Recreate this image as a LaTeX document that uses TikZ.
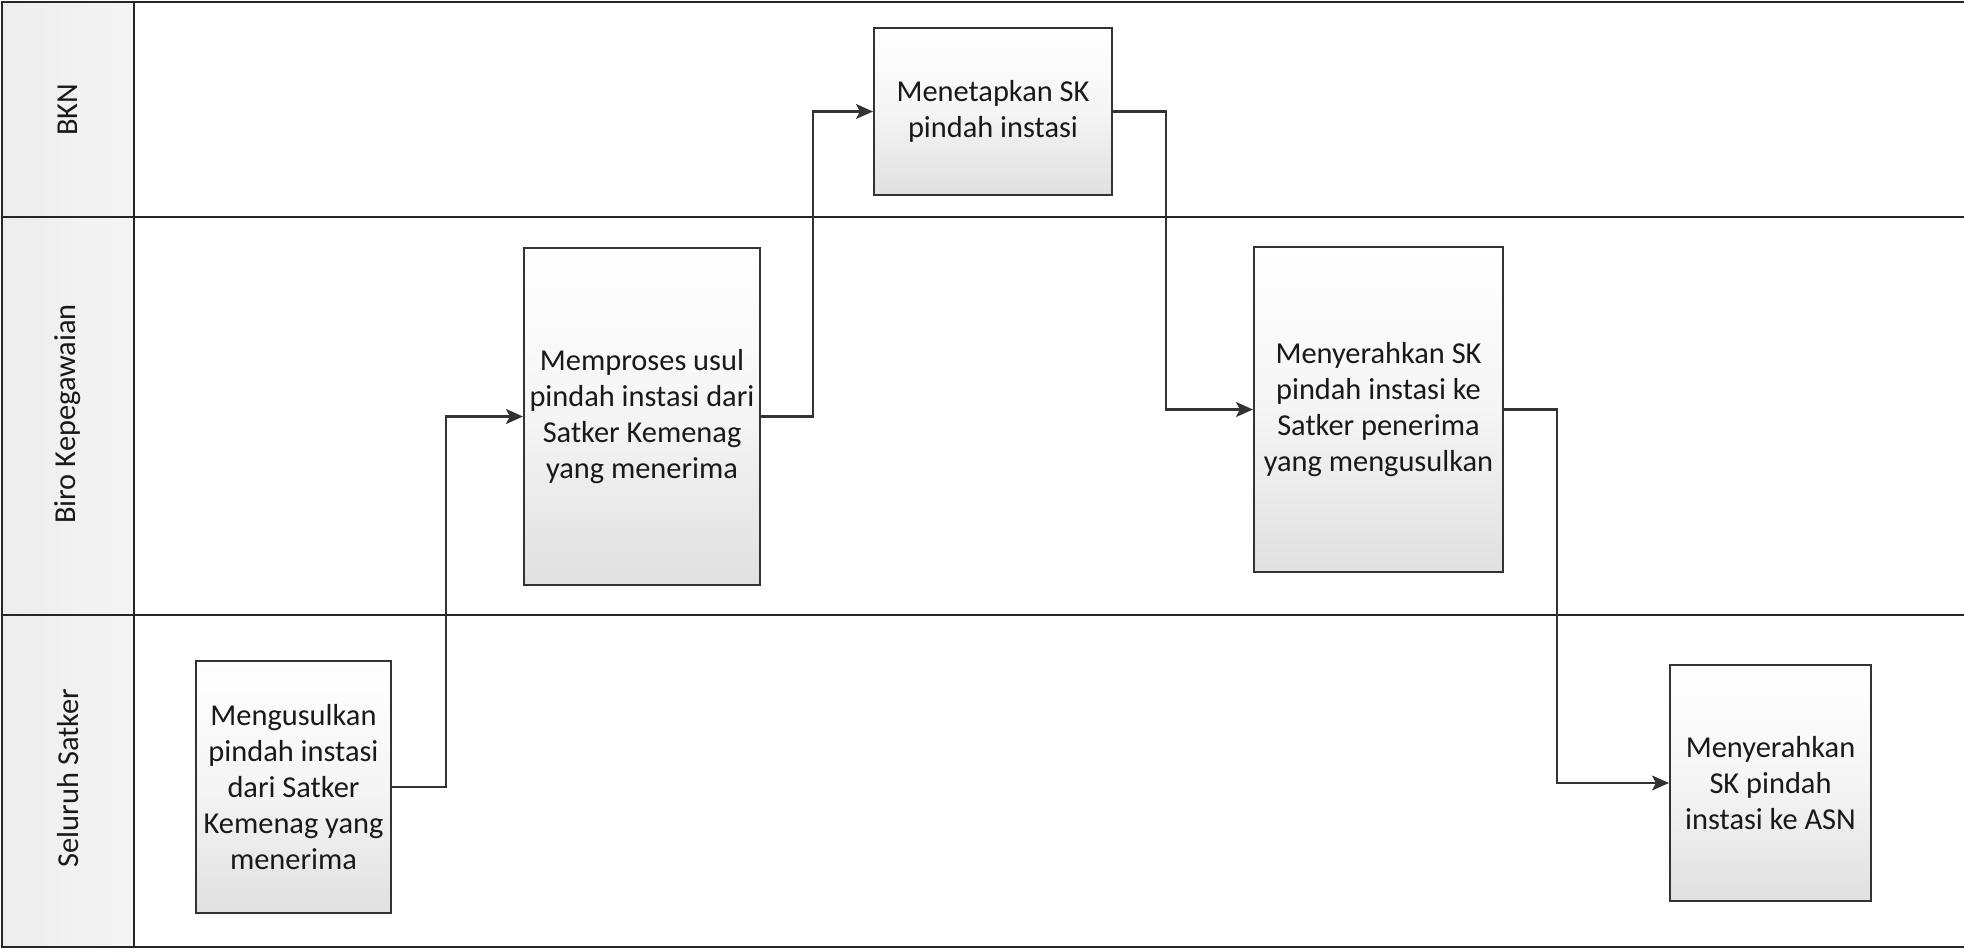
\documentclass[tikz,border=0pt]{standalone}
\usepackage{fontspec}
\setmainfont{Carlito}
\usetikzlibrary{arrows.meta,calc}
\tikzset{
  frame/.style={line width=1.4pt, draw=black!85},
  stepbox/.style={draw=black!80, line width=1.2pt, top color=white, bottom color=black!12,
    middle color=white!96!black,
    align=center, inner sep=2pt, text=black!90,
    font=\fontsize{17.3}{20.5}\selectfont},
  lanelabel/.style={rotate=90, text=black!90, font=\fontsize{17.3}{20}\selectfont},
  arr/.style={draw=black!80, line width=1.3pt,
    -{Stealth[length=0.34cm, width=0.3cm, inset=0.08cm]}},
}
\begin{document}
\begin{tikzpicture}[x=0.02cm, y=-0.02cm]
\useasboundingbox (0,0) rectangle (1964,949);
% header column
\fill[left color=black!7, right color=black!4] (2,2) rectangle (134,947);
% frame and lanes
\draw[frame] (1964,2) -- (2,2) -- (2,947) -- (1964,947);
\draw[frame] (134,2) -- (134,947);
\draw[frame] (2,217) -- (1964,217);
\draw[frame] (2,615) -- (1964,615);
% lane labels
\node[lanelabel] (l1) at (68,110) {BKN};
\node[lanelabel] (l2) at (68,414) {Biro Kepegawaian};
\node[lanelabel] (l3) at (68,778) {Seluruh Satker};
% steps
\node[stepbox, minimum width=3.9cm, minimum height=5.04cm] (m1) at (293.5,787)
  {Mengusulkan\\pindah instasi\\dari Satker\\Kemenag  yang\\menerima};
\node[stepbox, minimum width=4.72cm, minimum height=6.74cm] (m2) at (642,416.5)
  {Memproses usul\\pindah instasi  dari\\Satker Kemenag\\yang menerima};
\node[stepbox, minimum width=4.76cm, minimum height=3.34cm] (m3) at (993,111.5)
  {Menetapkan SK\\pindah instasi};
\node[stepbox, minimum width=4.98cm, minimum height=6.5cm] (m4) at (1378.5,409.5)
  {Menyerahkan SK\\pindah instasi ke\\Satker penerima\\yang mengusulkan};
\node[stepbox, minimum width=4.02cm, minimum height=4.72cm] (m5) at (1770.5,783)
  {Menyerahkan\\SK pindah\\instasi ke ASN};
% elbow columns
\coordinate (c1) at (446,0);
\coordinate (c2) at (813,0);
\coordinate (c3) at (1166,0);
\coordinate (c4) at (1557,0);
% connectors
\draw[arr] (m1.east) -- (c1 |- m1.east) -- (c1 |- m2.west) -- (m2.west);
\draw[arr] (m2.east) -- (c2 |- m2.east) -- (c2 |- m3.west) -- (m3.west);
\draw[arr] (m3.east) -- (c3 |- m3.east) -- (c3 |- m4.west) -- (m4.west);
\draw[arr] (m4.east) -- (c4 |- m4.east) -- (c4 |- m5.west) -- (m5.west);
\end{tikzpicture}
\end{document}
